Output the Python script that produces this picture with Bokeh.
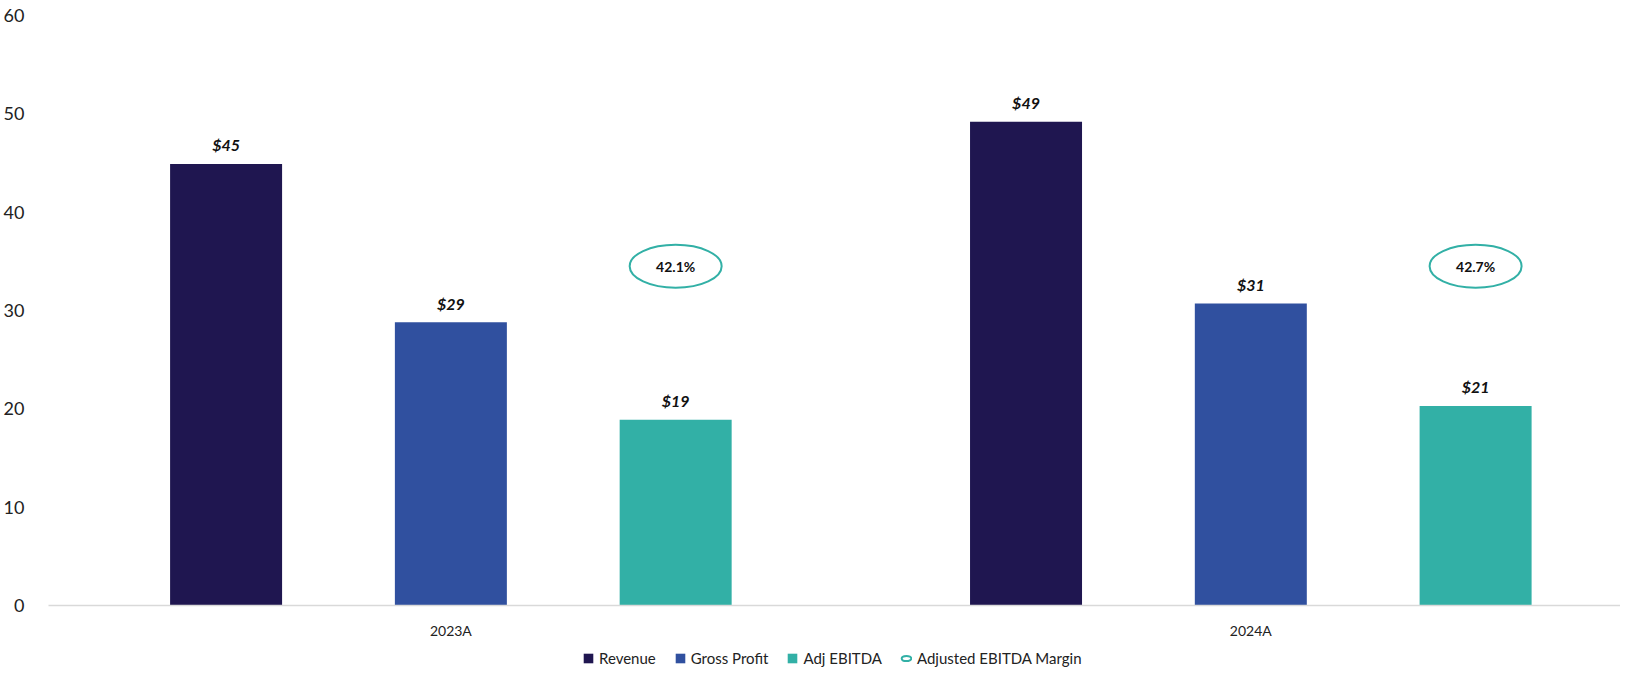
from bokeh.plotting import figure
from bokeh.layouts import column
from bokeh.models import (ColumnDataSource, Range1d, FixedTicker, Legend, LegendItem)
from bokeh.core.properties import value
from bokeh.embed import file_html
from bokeh.resources import INLINE

# ---- data ----
categories = ["2023A", "2024A"]
revenue = [44.9, 49.2]
gross_profit = [28.8, 30.7]
adj_ebitda = [18.9, 20.3]
revenue_labels = ["$45", "$49"]
gross_profit_labels = ["$29", "$31"]
adj_ebitda_labels = ["$19", "$21"]
ebitda_margin = ["42.1%", "42.7%"]
y_ticks = [0, 10, 20, 30, 40, 50, 60]

# ---- style ----
C_REV = "#1F1650"
C_GP = "#30509F"
C_EB = "#32B0A6"
FONT = "Lato"
BAR_W = 0.14
OFFS = [-0.281, 0.0, 0.281]
MARGIN_Y = 34.5

FIG_W = 1620
MAIN_H, LEG_H = 645, 22
BORDER_L = 42
CAT_PX = 803

p = figure(width=FIG_W, height=MAIN_H, output_backend="svg", toolbar_location=None,
           x_range=Range1d(-0.003, (FIG_W - BORDER_L) / CAT_PX - 0.003),
           y_range=Range1d(0, 60),
           min_border_left=BORDER_L, min_border_right=0, min_border_top=15,
           min_border_bottom=40)
p.outline_line_color = None
p.xgrid.visible = False
p.ygrid.visible = False

# legend-only strip below the chart (same borders so frames line up)
lg = figure(width=FIG_W, height=LEG_H, output_backend="svg", toolbar_location=None,
            x_range=Range1d(100, 101), y_range=Range1d(100, 101),
            min_border_left=BORDER_L, min_border_right=0, min_border_top=0,
            min_border_bottom=0, x_axis_type=None, y_axis_type=None)
lg.outline_line_color = None
lg.xgrid.visible = False
lg.ygrid.visible = False

centers = [i + 0.5 for i in range(len(categories))]

series = [
    ("Revenue", revenue, revenue_labels, C_REV, OFFS[0]),
    ("Gross Profit", gross_profit, gross_profit_labels, C_GP, OFFS[1]),
    ("Adj EBITDA", adj_ebitda, adj_ebitda_labels, C_EB, OFFS[2]),
]
items = []
for name, vals, labs, col, off in series:
    src = ColumnDataSource(dict(x=[c + off for c in centers], top=vals, lab=labs))
    p.vbar(x="x", top="top", width=BAR_W, source=src, fill_color=col, line_color=None)
    p.text(x="x", y="top", text="lab", source=src, text_align="center",
           text_baseline="middle", y_offset=-19, text_font=value(FONT),
           text_font_style="bold italic", text_font_size="16px", text_color="#111111")
    lr = lg.vbar(x="x", top="top", width=BAR_W, source=src, fill_color=col, line_color=None)
    items.append(LegendItem(label=name, renderers=[lr]))

msrc = ColumnDataSource(dict(x=[c + OFFS[2] for c in centers],
                             y=[MARGIN_Y] * len(centers), lab=ebitda_margin))
p.ellipse(x="x", y="y", width=92, height=43, width_units="screen",
          height_units="screen", source=msrc, fill_color=None,
          line_color=C_EB, line_width=2)
p.text(x="x", y="y", text="lab", source=msrc, text_align="center",
       text_baseline="middle", text_font=value(FONT), text_font_style="bold",
       text_font_size="14px", text_color="#111111")
ler = lg.ellipse(x="x", y="y", width=22, height=12, width_units="screen",
                 height_units="screen", source=msrc, fill_color=None,
                 line_color=C_EB, line_width=2)
items.append(LegendItem(label="Adjusted EBITDA Margin", renderers=[ler]))

# axes
xa = p.xaxis[0]
xa.ticker = FixedTicker(ticks=centers)
xa.major_label_overrides = {c: lab for c, lab in zip(centers, categories)}
xa.axis_line_color = "#D9D9D9"
xa.axis_line_width = 1.5
xa.major_tick_line_color = None
xa.minor_tick_line_color = None
xa.major_label_standoff = 10
xa.major_label_text_font = FONT
xa.major_label_text_font_size = "14px"
xa.major_label_text_color = "#222222"

ya = p.yaxis[0]
ya.ticker = FixedTicker(ticks=y_ticks)
ya.axis_line_color = None
ya.major_tick_line_color = None
ya.minor_tick_line_color = None
ya.major_label_standoff = 18
ya.major_label_text_font = FONT
ya.major_label_text_font_size = "18px"
ya.major_label_text_color = "#222222"

legend = Legend(items=items, orientation="horizontal", location=(534, 0),
                border_line_color=None, background_fill_alpha=0,
                label_text_font=FONT, label_text_font_size="15px",
                label_text_color="#222222", glyph_width=12, glyph_height=12,
                label_standoff=5, spacing=18, padding=0, margin=0)
lg.add_layout(legend, "center")

layout = column(p, lg, spacing=0)
open("out.html", "w").write(file_html(layout, INLINE))
